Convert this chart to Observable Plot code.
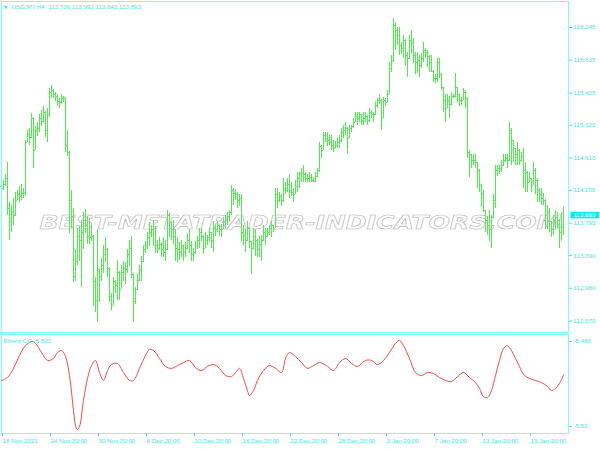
<!DOCTYPE html>
<html><head><meta charset="utf-8">
<script src="https://cdn.jsdelivr.net/npm/d3@7"></script>
<script src="https://cdn.jsdelivr.net/npm/@observablehq/plot@0.6"></script>
<style>
body{margin:0;background:#fff;}
#wrap{position:relative;width:600px;height:450px;background:#fff;overflow:hidden;}
#wrap svg{position:absolute;left:0;}
#sep{position:absolute;left:0;top:332px;width:568px;height:1px;background:#77ffff;}
</style></head><body><div id="wrap"><div id="sep"></div></div>
<script>
// ---- data: USDJPY H4 bars (one per 4 hours, index 0 = 18 Nov 2021 20:00) ----
const symbol = "USDJPY,H4";
const firstOpen = 114.25;
const high = [
114.30,114.33,114.40,114.55,114.05,114.02,114.11,114.18,114.21,114.26,
114.28,114.23,114.83,114.96,114.98,115.17,115.12,115.01,115.06,115.16,
115.20,115.26,115.19,115.23,115.48,115.52,115.47,115.43,115.40,115.36,
115.41,115.38,115.37,114.96,114.69,114.21,113.98,113.46,113.73,113.75,
113.83,113.93,113.97,113.88,113.85,113.76,113.64,113.12,113.71,113.21,
113.35,113.51,113.62,113.48,113.24,112.92,113.12,113.08,113.33,113.19,
113.26,113.31,113.30,113.46,113.58,113.63,113.16,112.99,113.17,113.26,
113.38,113.51,113.57,113.68,113.80,113.76,113.83,113.75,113.58,113.62,
113.55,113.62,113.58,113.96,113.92,113.81,113.83,113.71,113.62,113.55,
113.58,113.51,113.55,113.67,113.71,113.56,113.48,113.56,113.63,113.73,
113.73,113.64,113.68,113.64,113.73,113.68,113.81,113.77,113.81,113.77,
113.78,113.86,113.89,113.93,113.96,114.27,114.23,114.22,114.18,114.15,
114.15,113.77,113.71,113.81,113.74,113.56,113.73,113.71,113.59,113.63,
113.64,113.77,113.73,113.73,113.77,113.81,113.77,114.23,114.23,114.18,
114.16,114.36,114.31,114.36,114.40,114.31,114.23,114.33,114.43,114.43,
114.48,114.52,114.43,114.40,114.43,114.40,114.37,114.43,114.48,114.81,
114.77,114.93,114.93,114.93,114.89,114.89,114.83,114.82,114.86,114.89,
114.98,115.02,115.06,114.99,115.02,115.02,115.11,115.18,115.18,115.18,
115.15,115.18,115.18,115.14,115.23,115.21,115.18,115.31,115.36,115.40,
115.34,115.37,115.36,115.45,115.81,115.90,116.36,116.31,116.25,116.25,
116.06,116.15,116.09,115.93,116.15,116.21,116.11,115.93,115.93,115.90,
115.92,116.06,115.98,115.96,115.90,115.90,115.71,115.66,115.86,115.86,
115.67,115.50,115.40,115.40,115.38,115.43,115.41,115.67,115.50,115.41,
115.37,115.48,115.46,115.37,114.71,114.65,114.65,114.65,114.56,114.47,
114.28,114.21,113.96,113.88,113.96,113.89,114.15,114.52,114.52,114.52,
114.58,114.65,114.65,114.65,115.06,114.98,114.83,114.73,114.81,114.72,
114.68,114.73,114.56,114.44,114.43,114.36,114.56,114.48,114.36,114.23,
114.23,114.17,114.09,114.02,113.98,113.81,113.89,113.96,113.93,113.84,
113.93,113.992];
const low = [
114.18,114.21,114.25,113.89,113.58,113.68,113.77,113.88,114.08,114.06,
114.08,114.11,114.13,114.80,114.77,114.86,114.48,114.70,114.88,114.93,
115.01,115.05,114.87,114.81,115.12,115.36,115.36,115.32,115.26,115.23,
115.28,115.31,114.68,114.63,113.67,113.73,113.05,113.07,113.26,113.31,
112.99,113.46,113.66,113.53,113.53,113.57,112.75,112.68,112.55,112.80,
113.07,113.16,113.30,113.12,112.80,112.70,112.76,112.92,112.83,112.83,
112.96,113.07,113.03,113.16,113.25,113.10,112.55,112.78,112.95,113.07,
113.07,113.30,113.41,113.46,113.50,113.61,113.50,113.42,113.41,113.45,
113.36,113.36,113.32,113.45,113.61,113.58,113.53,113.32,113.30,113.33,
113.37,113.32,113.37,113.46,113.42,113.31,113.31,113.40,113.46,113.48,
113.56,113.40,113.48,113.52,113.56,113.48,113.43,113.63,113.68,113.63,
113.62,113.71,113.73,113.77,113.81,113.89,114.02,114.08,113.98,114.01,
113.56,113.52,113.43,113.56,113.48,113.15,113.46,113.38,113.36,113.36,
113.31,113.56,113.52,113.61,113.64,113.62,113.68,113.73,113.98,114.06,
114.01,114.06,114.15,114.18,114.11,114.13,114.06,114.15,114.18,114.23,
114.31,114.31,114.31,114.31,114.31,114.30,114.30,114.31,114.37,114.43,
114.61,114.70,114.80,114.76,114.77,114.71,114.68,114.73,114.73,114.73,
114.81,114.86,114.89,114.65,114.85,114.93,114.98,115.06,115.02,115.06,
115.02,115.02,115.06,115.02,115.06,115.11,115.06,115.14,115.23,115.28,
114.96,115.10,115.26,115.30,115.40,115.68,115.81,115.96,116.02,115.90,
115.91,115.86,115.76,115.62,115.85,115.92,115.80,115.66,115.67,115.62,
115.73,115.81,115.86,115.75,115.68,115.68,115.56,115.55,115.56,115.61,
115.46,115.18,115.06,115.23,115.11,115.27,115.35,115.37,115.31,115.25,
115.27,115.33,115.23,114.60,114.37,114.48,114.52,114.48,114.23,114.18,
113.99,113.93,113.68,113.64,113.56,113.48,113.85,113.98,114.38,114.40,
114.43,114.50,114.56,114.48,114.57,114.52,114.56,114.52,114.52,114.52,
114.56,114.23,114.18,114.18,114.31,114.18,114.27,114.15,114.06,114.06,
114.02,114.02,113.71,113.71,113.68,113.61,113.64,113.71,113.73,113.48,
113.56,113.642];
const close = [
114.23,114.28,114.36,113.98,113.81,113.93,113.89,114.08,114.15,114.13,
114.17,114.18,114.81,114.91,114.87,115.11,114.71,114.96,114.98,115.11,
115.07,115.18,114.96,115.15,115.43,115.46,115.40,115.38,115.32,115.31,
115.35,115.36,114.77,114.68,114.08,113.88,113.13,113.31,113.63,113.58,
113.68,113.83,113.76,113.63,113.61,113.63,113.07,112.83,113.21,113.13,
113.27,113.40,113.46,113.23,112.88,112.77,113.06,113.02,113.18,112.96,
113.18,113.23,113.21,113.40,113.48,113.15,112.81,112.96,113.08,113.21,
113.31,113.46,113.52,113.61,113.68,113.71,113.73,113.52,113.48,113.53,
113.46,113.43,113.46,113.89,113.73,113.71,113.63,113.48,113.46,113.43,
113.51,113.43,113.48,113.58,113.52,113.40,113.43,113.51,113.58,113.68,
113.63,113.48,113.58,113.61,113.68,113.58,113.73,113.71,113.76,113.71,
113.71,113.81,113.83,113.88,113.93,114.21,114.17,114.15,114.08,114.11,
113.68,113.64,113.58,113.73,113.56,113.48,113.63,113.58,113.46,113.53,
113.58,113.68,113.63,113.68,113.73,113.76,113.73,114.15,114.08,114.13,
114.08,114.23,114.21,114.28,114.21,114.18,114.15,114.26,114.36,114.40,
114.43,114.40,114.36,114.36,114.37,114.33,114.32,114.38,114.46,114.76,
114.71,114.89,114.86,114.83,114.81,114.77,114.73,114.77,114.81,114.83,
114.93,114.96,114.98,114.86,114.98,115.01,115.06,115.13,115.11,115.15,
115.08,115.11,115.13,115.08,115.18,115.16,115.15,115.27,115.33,115.33,
115.11,115.33,115.31,115.41,115.73,115.83,116.27,116.21,116.15,116.02,
115.98,116.08,115.90,115.86,116.08,116.06,115.90,115.81,115.83,115.77,
115.86,115.96,115.93,115.88,115.81,115.70,115.61,115.61,115.81,115.66,
115.49,115.33,115.23,115.33,115.28,115.38,115.38,115.49,115.40,115.33,
115.33,115.43,115.36,114.68,114.65,114.58,114.58,114.56,114.46,114.27,
114.15,113.95,113.83,113.77,113.71,113.86,114.08,114.46,114.48,114.48,
114.52,114.58,114.61,114.58,114.96,114.83,114.73,114.65,114.71,114.58,
114.63,114.46,114.43,114.31,114.36,114.27,114.46,114.33,114.21,114.15,
114.11,114.08,113.89,113.93,113.81,113.71,113.81,113.86,113.83,113.68,
113.736,113.893];

// Ehlers CG indicator, read at these bar indices
const cgBar = [0,3,6,9,12,15,17,20,23,26,28,30,32,34,36,37,38,39,41,43,45,47,49,51,53,55,58,61,64,66,69,72,74,76,79,82,85,88,91,94,97,100,103,106,109,112,115,117,119,121,123,124,126,128,131,134,137,140,142,144,147,150,153,156,159,163,166,169,172,175,178,182,185,188,191,194,197,199,201,204,207,210,213,216,219,222,225,228,231,234,237,239,241,243,245,247,249,251,253,255,257,259,261,264,267,270,273,275,277,279,281];
const cgValue = [-5.5032,-5.5021,-5.4988,-5.4941,-5.4905,-5.4890,-5.4897,-5.4930,-5.4959,-5.4952,
-5.4930,-5.4923,-5.4945,-5.5014,-5.5142,-5.5196,-5.5211,-5.5200,-5.5105,-5.5025,
-5.4978,-5.4959,-5.5003,-5.5032,-5.4996,-5.4974,-5.4970,-5.5003,-5.5032,-5.5032,
-5.4988,-5.4941,-5.4919,-5.4923,-5.4952,-5.4981,-5.4988,-5.4978,-5.4967,-5.4959,
-5.4985,-5.4996,-5.4981,-5.4974,-5.4988,-5.5014,-5.5018,-5.5003,-5.4988,-5.5025,
-5.5069,-5.5087,-5.5069,-5.5032,-5.4996,-5.4978,-5.4988,-5.5003,-5.4952,-5.4930,
-5.4945,-5.4967,-5.4988,-5.4978,-5.4967,-5.4981,-5.4996,-5.4967,-5.4952,-5.4970,
-5.4981,-5.4959,-5.4959,-5.4974,-5.4959,-5.4930,-5.4897,-5.4886,-5.4905,-5.4952,
-5.5003,-5.5014,-5.5003,-5.5007,-5.5021,-5.5032,-5.5036,-5.5018,-5.5003,-5.5021,
-5.5040,-5.5061,-5.5091,-5.5094,-5.5069,-5.5014,-5.4959,-5.4916,-5.4905,-5.4923,
-5.4952,-5.4981,-5.5010,-5.5025,-5.5032,-5.5040,-5.5054,-5.5069,-5.5061,-5.5043,
-5.5012];

const priceTicks = [116.245,115.835,115.425,115.020,114.610,114.205,113.795,113.390,112.980,112.570];
const cgTicks = [-5.489,-5.52];
const dateBars = [0,24,48,72,96,120,144,168,192,216,240,264];
const dateLabels = ["18 Nov 2021","24 Nov 20:00","30 Nov 20:00","6 Dec 20:00","10 Dec 20:00","16 Dec 20:00","22 Dec 20:00","28 Dec 20:00","3 Jan 20:00","7 Jan 20:00","13 Jan 20:00","19 Jan 20:00"];
const watermark = "BEST-METATRADER-INDICATORS.COM";
const indicatorName = "Ehlers CG";

// ---- build ----
const CYAN = "#77ffff", TXT = "#3fe4e4", GREEN = "#4fea4f", RED = "#ee4a4a";
const FONT = "Liberation Sans, Arial, sans-serif";
const FS = 6.2;
const open = close.map((c, i) => i === 0 ? firstOpen : close[i - 1]); // H4 forex bars open at the prior close
const bars = close.map((c, i) => ({i, open: open[i], high: high[i], low: low[i], close: c}));
const last = bars[bars.length - 1];
const cg = cgBar.map((b, k) => ({i: b, v: cgValue[k]}));
const xScale = {domain: [-0.5, 283.5], range: [0, 568], label: null, axis: null};
const titleText = `${symbol}  ${last.open.toFixed(3)} ${last.high.toFixed(3)} ${last.low.toFixed(3)} ${last.close.toFixed(3)}`;
const priceText = last.close.toFixed(3);

const main = Plot.plot({
  width: 600, height: 332, marginTop: 0, marginRight: 32, marginBottom: 0, marginLeft: 0,
  style: {background: "transparent", fontFamily: FONT},
  x: xScale,
  y: {domain: [112.439, 116.583], range: [331, 0], axis: null, label: null},
  marks: [
    Plot.ruleX(bars, {x: "i", y1: "low", y2: "high", stroke: GREEN, shapeRendering: "crispEdges"}),
    Plot.ruleY(bars, {y: "open", x1: d => d.i - 0.5, x2: "i", stroke: GREEN, shapeRendering: "crispEdges"}),
    Plot.ruleY(bars, {y: "close", x1: "i", x2: d => d.i + 0.5, stroke: GREEN, shapeRendering: "crispEdges"}),
    Plot.text([watermark], {frameAnchor: "middle", dx: 16, dy: 56, fontSize: 20, fontStyle: "italic", fontWeight: "bold",
      fontFamily: "DejaVu Sans", fill: "none", stroke: "#b4b4b4", strokeWidth: 0.6}),
    Plot.frame({stroke: CYAN, inset: 0.5, shapeRendering: "crispEdges"}),
    Plot.axisY({anchor: "right", ticks: priceTicks, tickFormat: d => d.toFixed(3), tickSize: 3, tickPadding: 2,
      fontSize: FS, color: TXT, fontFamily: FONT, label: null}),
    Plot.text(["▼"], {frameAnchor: "top-left", dx: 3, dy: 4.5, fontSize: 5, fill: TXT, fontFamily: "DejaVu Sans"}),
    Plot.text([titleText], {frameAnchor: "top-left", dx: 11, dy: 4.5, fontSize: FS, fill: TXT, fontFamily: FONT}),
    Plot.text([last.close], {y: d => d, text: () => priceText, frameAnchor: "right", textAnchor: "start", dx: 5,
      fontSize: FS, fill: "white", fontFamily: FONT})
  ]
});
main.style.top = "0px";

const ind = Plot.plot({
  width: 600, height: 117, marginTop: 0, marginRight: 32, marginBottom: 17, marginLeft: 0,
  style: {background: "transparent", fontFamily: FONT},
  x: xScale,
  y: {domain: [-5.52, -5.489], range: [93, 8], axis: null, label: null},
  marks: [
    Plot.frame({stroke: CYAN, inset: 0.5, shapeRendering: "crispEdges"}),
    Plot.line(cg, {x: "i", y: "v", stroke: RED, strokeWidth: 1, curve: "catmull-rom"}),
    Plot.axisY({anchor: "right", ticks: cgTicks, tickFormat: d => String(d), tickSize: 3, tickPadding: 2,
      fontSize: FS, color: TXT, fontFamily: FONT, label: null}),
    Plot.axisX({anchor: "bottom", ticks: dateBars, tickFormat: d => dateLabels[dateBars.indexOf(d)], tickSize: 3,
      tickPadding: 2, textAnchor: "start", dx: 1, fontSize: FS, color: TXT, fontFamily: FONT, label: null}),
    Plot.text([`${indicatorName} ${cgValue[cgValue.length - 1].toFixed(3)}`], {frameAnchor: "top-left", dx: 3, dy: 5.5,
      fontSize: FS, fill: TXT, fontFamily: FONT})
  ]
});
ind.style.top = "333px";

const wrap = document.getElementById("wrap");
wrap.appendChild(main);
wrap.appendChild(ind);

// stretch the watermark to its width in the reference
d3.select(main).selectAll("text").filter(function() { return this.textContent === watermark; })
  .attr("textLength", 522).attr("lengthAdjust", "spacingAndGlyphs");

// cyan box behind the current price label
d3.select(main).selectAll("text").filter(function() { return this.textContent === priceText; })
  .each(function() {
    const bb = this.getBBox();
    const r = document.createElementNS("http://www.w3.org/2000/svg", "rect");
    r.setAttribute("x", bb.x - 3);
    r.setAttribute("y", bb.y + 0.5);
    r.setAttribute("width", bb.width + 6);
    r.setAttribute("height", bb.height - 0.5);
    r.setAttribute("fill", "#00f0f0");
    const t = this.getAttribute("transform");
    if (t) r.setAttribute("transform", t);
    this.parentNode.insertBefore(r, this);
  });
</script>
</body></html>
